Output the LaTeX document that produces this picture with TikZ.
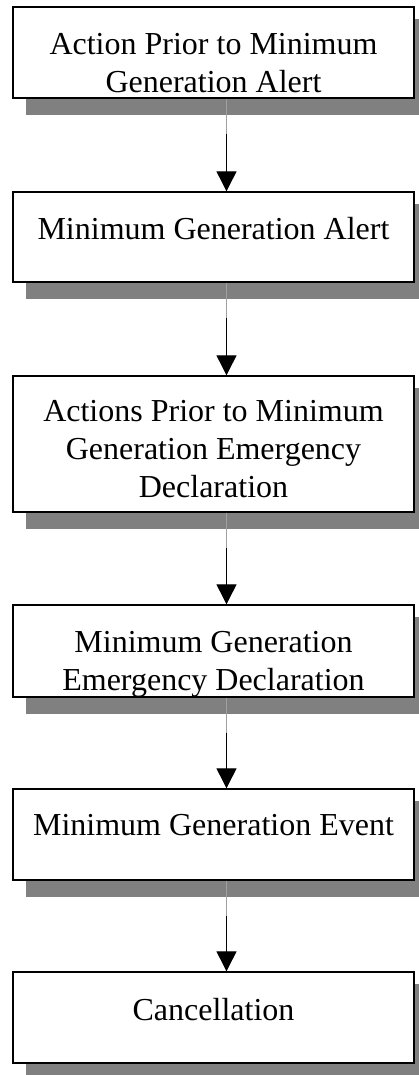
\documentclass[tikz,border=0pt]{standalone}
\usepackage{fontspec}
\setmainfont{Liberation Serif}
\usetikzlibrary{arrows.meta,backgrounds}
\definecolor{shadowgray}{RGB}{128,128,128}
\definecolor{linegray}{RGB}{160,160,160}
\tikzset{
  stepbox/.style={draw=black, line width=1.3pt, fill=white, rectangle, inner sep=0pt, minimum width=401pt},
  lbl/.style={align=center, inner sep=0pt, font=\fontsize{32}{38}\selectfont},
  flowarrow/.style={draw=black, line width=0.9pt, -{Triangle[width=20pt,length=20pt]}},
  graysegment/.style={draw=linegray, line width=0.9pt},
}
\newcommand{\boxshadow}[1]{\fill[shadowgray] ([xshift=14pt,yshift=-13pt]#1.north west) rectangle ([xshift=14pt,yshift=-16pt]#1.south east);}
\begin{document}
\begin{tikzpicture}[x=1pt,y=-1pt]
\clip (0,0) rectangle (419,1075);
\node[stepbox, minimum height=91pt] (b1) at (213.5,52.5) {};
\node[stepbox, minimum height=90pt] (b2) at (213.5,237) {};
\node[stepbox, minimum height=136pt] (b3) at (213.5,444) {};
\node[stepbox, minimum height=92pt] (b4) at (213.5,651) {};
\node[stepbox, minimum height=91pt] (b5) at (213.5,834.5) {};
\node[stepbox, minimum height=91pt] (b6) at (213.5,1017.5) {};
\begin{scope}[on background layer]
\boxshadow{b1}\boxshadow{b2}\boxshadow{b3}\boxshadow{b4}\boxshadow{b5}\boxshadow{b6}
\end{scope}
\node[lbl, anchor=base] (t1) at (213.5,92.5) {Action Prior to Minimum\\Generation Alert};
\node[lbl, anchor=base] (t2) at (213.5,240) {Minimum Generation Alert};
\node[lbl, anchor=base] (t3) at (213.5,497) {Actions Prior to Minimum\\Generation Emergency\\Declaration};
\node[lbl, anchor=base] (t4) at (213.5,690) {Minimum Generation\\Emergency Declaration};
\node[lbl, anchor=base] (t5) at (213.5,835) {Minimum Generation Event};
\node[lbl, anchor=base] (t6) at (213.5,1020) {Cancellation};
\foreach \a/\b in {b1/b2,b2/b3,b3/b4,b4/b5,b5/b6}{
  \draw[graysegment] ([xshift=13pt]\a.south) -- ([xshift=13pt,yshift=-35pt]\a.south);
  \draw[flowarrow] ([xshift=13pt,yshift=-35pt]\a.south) -- ([xshift=13pt]\b.north);
}
\end{tikzpicture}
\end{document}
